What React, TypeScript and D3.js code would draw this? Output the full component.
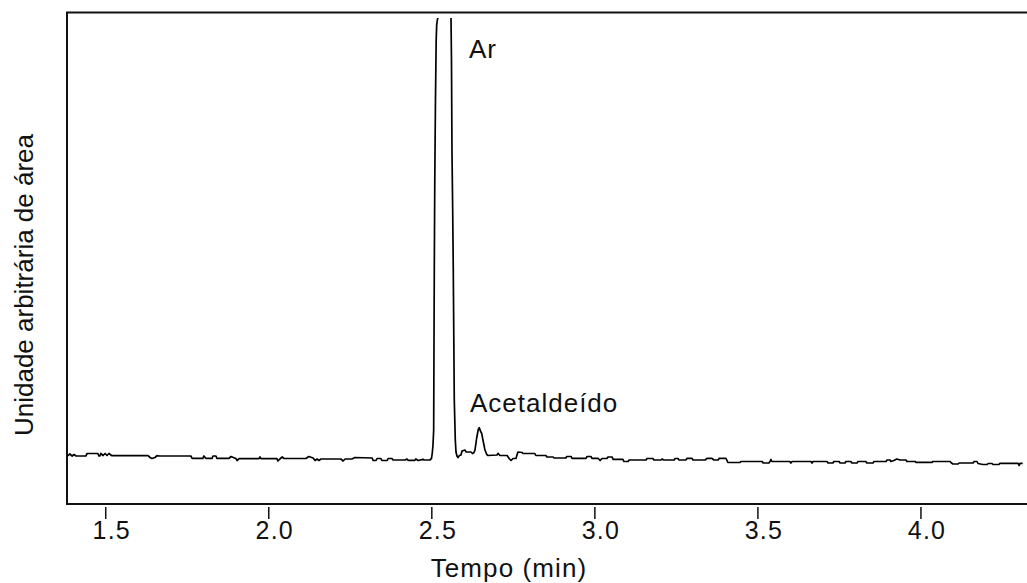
import React from "react";
import * as d3 from "d3";

const W = 1027;
const H = 583;

// tempo (min), sinal (unidade arbitrária)
const baselineBefore: [number, number][] = [
  [1.380, 3], [1.384, 2.3], [1.390, 4], [1.397, 2], [1.403, 3.5], [1.409, 2],
  [1.439, 2], [1.443, 4.5], [1.476, 4.5], [1.479, 2], [1.482, 2], [1.485, 4.5],
  [1.492, 2.5], [1.498, 4.5], [1.504, 2.5], [1.510, 4.5], [1.519, 2.3], [1.630, 2.3],
  [1.636, 0.5], [1.642, -0.5], [1.651, 0.5], [1.657, 2.3], [1.666, 2], [1.761, 2],
  [1.765, -0.3], [1.798, -0.3], [1.801, 2], [1.807, -0.3], [1.826, -0.3], [1.829, 2],
  [1.838, 2], [1.841, -0.3], [1.878, -0.3], [1.884, 1.5], [1.899, -0.5], [1.903, -2.5],
  [1.909, -0.7], [1.970, -0.7], [1.973, 1], [1.976, -0.7], [2.025, -0.7], [2.028, -3],
  [2.034, -1], [2.041, 1], [2.047, -0.5], [2.114, -0.5], [2.123, 1.5], [2.136, 0],
  [2.142, -2.5], [2.148, -1], [2.154, -2.5], [2.160, -1], [2.221, -1], [2.228, -3],
  [2.234, -1], [2.255, -1], [2.264, 0.5], [2.317, 0], [2.320, -2.5], [2.329, -2.5],
  [2.332, -0.5], [2.344, -0.5], [2.347, -2.5], [2.363, -2.5], [2.366, -0.5], [2.378, -0.5],
  [2.381, -2], [2.418, -2], [2.424, -1], [2.427, -2.3], [2.448, -2.3], [2.451, -1],
  [2.458, -2.5], [2.473, -1.3], [2.476, -2], [2.494, -2], [2.499, -0.5],
];

const peakAr: [number, number][] = [
  [2.5014, 5], [2.5036, 13], [2.5057, 28], [2.5066, 108], [2.5076, 188], [2.5091, 278],
  [2.5112, 358], [2.5134, 418], [2.5149, 433], [2.5174, 439], [2.5204, 441], [2.5373, 1200],
  [2.5588, 441], [2.5603, 398], [2.5618, 308], [2.5640, 248], [2.5658, 188], [2.5689, 58],
  [2.5720, 18], [2.5741, 6], [2.5772, 2], [2.5802, 0.5], [2.5848, 2.5], [2.5894, 3],
];

const peakAcetaldeido: [number, number][] = [
  [2.5925, 7], [2.602, 8], [2.605, 6], [2.620, 6], [2.6247, 4.5], [2.6293, 5.5],
  [2.6324, 8], [2.6376, 20], [2.6425, 28.7], [2.6456, 30.3], [2.6499, 26.3], [2.6529, 24.7],
  [2.6578, 16.3], [2.6630, 8], [2.6682, 3.7], [2.6722, 2.5],
];

const baselineAfter: [number, number][] = [
  [2.700, 3], [2.703, 4.7], [2.709, 2.5], [2.731, 2.5], [2.737, -0.5], [2.743, -2.5],
  [2.749, -0.5], [2.758, -0.5], [2.764, 6], [2.777, 5.5], [2.780, 4.5], [2.816, 4.5],
  [2.819, 2.5], [2.850, 2.5], [2.853, 1], [2.872, 1], [2.875, 0], [2.911, 0],
  [2.914, 1.5], [2.927, 1.5], [2.930, -0.3], [2.973, -0.3], [2.976, 1.5], [2.988, 1.5],
  [2.991, -0.3], [3.010, -0.3], [3.016, -2.5], [3.022, -0.5], [3.037, -0.5], [3.040, 1],
  [3.053, 1], [3.056, -1.3], [3.086, -1.3], [3.089, -3.5], [3.102, -3.5], [3.105, -2],
  [3.157, -2], [3.160, -0.5], [3.178, -0.5], [3.181, -2], [3.203, -2], [3.206, -1],
  [3.212, -2], [3.243, -2], [3.246, -0.5], [3.255, -0.5], [3.258, -2], [3.279, -2],
  [3.283, -0.3], [3.298, -0.3], [3.301, -2], [3.338, -2], [3.344, -0.3], [3.359, -0.3],
  [3.365, -2], [3.378, -2], [3.381, -0.3], [3.402, -0.3], [3.408, -4.5], [3.445, -4.5],
  [3.448, -3.5], [3.513, -3.5], [3.516, -5], [3.534, -5], [3.537, -3.5], [3.540, -1.5],
  [3.543, -3.5], [3.598, -3.5], [3.601, -5], [3.605, -3.5], [3.663, -3.5], [3.666, -5],
  [3.669, -3.5], [3.712, -3.5], [3.715, -5], [3.730, -5], [3.733, -3.5], [3.749, -3.5],
  [3.752, -5], [3.767, -5], [3.770, -3.5], [3.785, -3.5], [3.788, -5], [3.804, -5],
  [3.807, -3.5], [3.831, -3.5], [3.834, -5], [3.853, -5], [3.856, -3.5], [3.893, -3.5],
  [3.896, -2], [3.905, -2], [3.908, -3.5], [3.917, -2.5], [3.926, -1], [3.936, -2],
  [3.954, -2], [3.957, -3.5], [3.982, -3.5], [3.985, -4.3], [4.034, -4.3], [4.037, -3.5],
  [4.089, -3.5], [4.092, -4.5], [4.098, -6], [4.114, -6], [4.117, -5], [4.160, -5],
  [4.163, -3.5], [4.172, -3.5], [4.175, -5.5], [4.190, -6.5], [4.203, -6.5], [4.206, -5.5],
  [4.218, -5.5], [4.221, -6.5], [4.239, -6.5], [4.242, -5.3], [4.298, -5.3], [4.301, -7.5],
  [4.304, -5.3], [4.312, -5.3],
];

const xTicks = [1.5, 2.0, 2.5, 3.0, 3.5, 4.0];

const peakLabels = [
  { text: "Ar", t: 2.614, v: 400 },
  { text: "Acetaldeído", t: 2.617, v: 46.3 },
];

const font = "'Liberation Sans', Arial, Helvetica, sans-serif";

export default function App() {
  const left = 67, top = 12.5, bottom = 504;

  const x = d3.scaleLinear().domain([1.38, 4.32]).range([66.6, 1025.3]);
  const y = d3.scaleLinear().domain([-46, 446]).range([bottom, 12]);

  const data = [...baselineBefore, ...peakAr, ...peakAcetaldeido, ...baselineAfter];
  const line = d3.line<[number, number]>()
    .x(d => x(d[0]))
    .y(d => y(d[1]));

  return (
    <svg width={W} height={H} style={{ position: "absolute", left: 0, top: 0, background: "#fff" }}
      fontFamily={font}>
      <defs>
        <clipPath id="plot-clip">
          <rect x={left} y={y(440)} width={W - left} height={bottom - y(440)} />
        </clipPath>
      </defs>

      {/* frame: the right side is cut off by the picture edge */}
      <path d={`M${W + 2},${top}H${left}V${bottom}H${W + 2}`} fill="none" stroke="#111" strokeWidth={2} />

      <path d={line(data) || ""} fill="none" stroke="#000" strokeWidth={1.7}
        strokeLinejoin="round" clipPath="url(#plot-clip)" />

      {peakLabels.map(p => (
        <text key={p.text} x={x(p.t)} y={y(p.v)} fontSize={26} letterSpacing={1} fill="#111">{p.text}</text>
      ))}

      {xTicks.map(t => (
        <g key={t} transform={`translate(${x(t)},0)`}>
          <line y1={507} y2={519} stroke="#111" strokeWidth={1.5} />
          <text x={6} y={539} fontSize={25} letterSpacing={1.2} textAnchor="middle" fill="#111">
            {d3.format(".1f")(t)}
          </text>
        </g>
      ))}

      <text x={509} y={577} fontSize={26} letterSpacing={1.1} textAnchor="middle" fill="#111">Tempo (min)</text>
      <text transform="translate(33,285) rotate(-90)" fontSize={26} textAnchor="middle" fill="#111">
        Unidade arbitrária de área
      </text>
    </svg>
  );
}
